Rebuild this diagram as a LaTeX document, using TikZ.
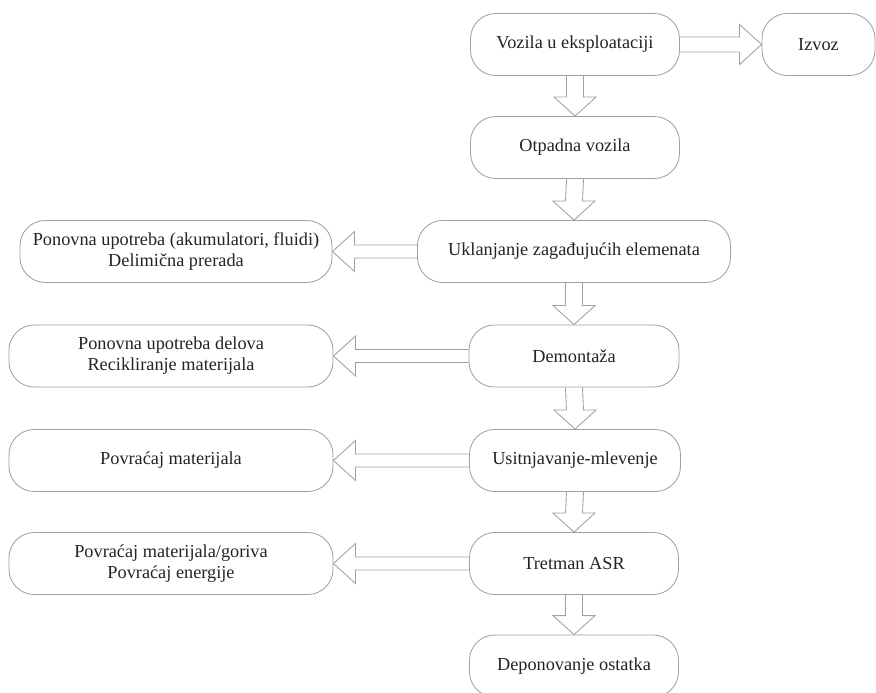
\documentclass[tikz,border=0pt]{standalone}
\usepackage{fontspec}
\setmainfont{Liberation Serif}
\usetikzlibrary{calc}
\definecolor{linegray}{RGB}{160,160,160}
\definecolor{textgray}{RGB}{35,35,35}
% hollow block arrows between boxes
\newcommand{\flowdown}[2]{\draw[fatarrow] ($(#1.south)+(-8.5,0)$) -- ($(#2.north)+(-8.5,-19)$) -- ($(#2.north)+(-21,-19)$) -- (#2.north) -- ($(#2.north)+(21,-19)$) -- ($(#2.north)+(8.5,-19)$) -- ($(#1.south)+(8.5,0)$);}
\newcommand{\flowleft}[2]{\draw[fatarrow] ($(#1.west)+(0,-6.5)$) -- ($(#2.east)+(22,-6.5)$) -- ($(#2.east)+(22,-20)$) -- (#2.east) -- ($(#2.east)+(22,20)$) -- ($(#2.east)+(22,6.5)$) -- ($(#1.west)+(0,6.5)$);}
\newcommand{\flowright}[2]{\draw[fatarrow] ($(#1.east)+(0,-7.5)$) -- ($(#2.west)+(-22,-7.5)$) -- ($(#2.west)+(-22,-20)$) -- (#2.west) -- ($(#2.west)+(-22,20)$) -- ($(#2.west)+(-22,7.5)$) -- ($(#1.east)+(0,7.5)$);}
\begin{document}
\begin{tikzpicture}[x=0.025cm,y=-0.025cm,
    box/.style={draw=linegray, line width=0.6pt, rounded corners=18pt, minimum height=1.55cm, inner sep=2pt, align=center, text=textgray, font=\fontsize{13}{15}\selectfont},
    fatarrow/.style={draw=linegray, line width=0.6pt, line join=miter}]
  \useasboundingbox (0,0) rectangle (876,692);
  % main chain
  \node[box, minimum width=5.225cm] (veh) at (575,44.5) {Vozila u eksploataciji};
  \node[box, minimum width=2.825cm] (izvoz) at (818.5,44.5) {Izvoz};
  \node[box, minimum width=5.225cm] (otpad) at (575,147.5) {Otpadna vozila};
  \node[box, minimum width=7.825cm] (uklanj) at (574,251.5) {Uklanjanje zagađujućih elemenata};
  \node[box, minimum width=5.25cm] (demont) at (574,356) {Demontaža};
  \node[box, minimum width=5.275cm] (usitnj) at (575,460.5) {Usitnjavanje-mlevenje};
  \node[box, minimum width=5.225cm] (tretman) at (574,563.5) {Tretman ASR};
  \node[box, minimum width=5.225cm] (depon) at (574,666) {Deponovanje ostatka};
  % side outputs
  \node[box, minimum width=7.8cm] (reuse) at (176,251.5) {Ponovna upotreba (akumulatori, fluidi)\\Delimična prerada};
  \node[box, minimum width=8.1cm] (parts) at (171,356) {Ponovna upotreba delova\\Recikliranje materijala};
  \node[box, minimum width=8.1cm] (recover) at (171,460.5) {Povraćaj materijala};
  \node[box, minimum width=8.1cm] (energy) at (171,563.5) {Povraćaj materijala/goriva\\Povraćaj energije};
  % arrows
  \flowright{veh}{izvoz}
  \flowdown{veh}{otpad}
  \flowdown{otpad}{uklanj}
  \flowdown{uklanj}{demont}
  \flowdown{demont}{usitnj}
  \flowdown{usitnj}{tretman}
  \flowdown{tretman}{depon}
  \flowleft{uklanj}{reuse}
  \flowleft{demont}{parts}
  \flowleft{usitnj}{recover}
  \flowleft{tretman}{energy}
\end{tikzpicture}
\end{document}
